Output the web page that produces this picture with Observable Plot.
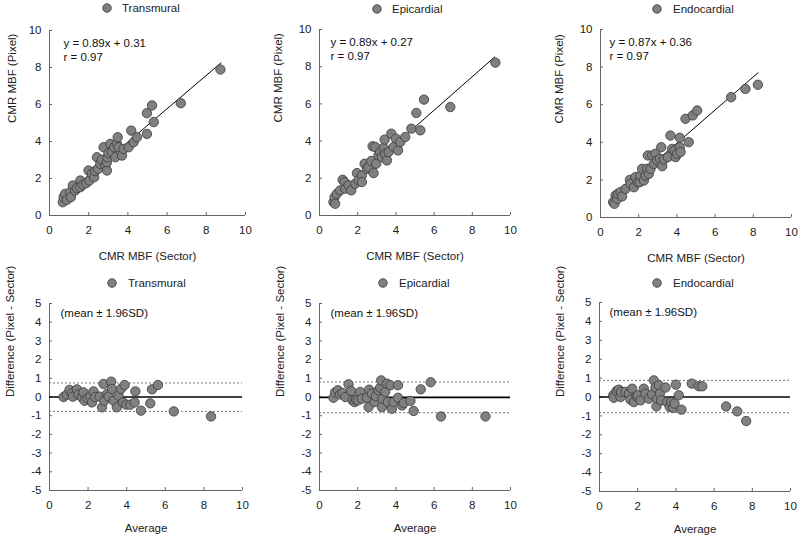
<!DOCTYPE html>
<html><head><meta charset="utf-8">
<script src="https://cdn.jsdelivr.net/npm/d3@7"></script>
<script src="https://cdn.jsdelivr.net/npm/@observablehq/plot@0.6"></script>
<style>
body{margin:0;background:#fff;}
#root{position:relative;width:800px;height:539px;overflow:hidden;background:#fff;font-family:Arial,"Liberation Sans",sans-serif;}
.panel{position:absolute;}
.legend{position:absolute;font-size:11.5px;color:#222;white-space:nowrap;height:14px;line-height:14px;}
.legend svg{position:absolute;left:0;top:2px;}
.legend span{position:absolute;top:0;}
</style>
</head><body><div id="root"></div>
<script>
// ---------- data ----------
const layers = ["Transmural", "Epicardial", "Endocardial"];
const equations = ["y = 0.89x + 0.31", "y = 0.89x + 0.27", "y = 0.87x + 0.36"];
const rValues = ["r = 0.97", "r = 0.97", "r = 0.97"];
const baNote = "(mean ± 1.96SD)";
const scatterXLabel = "CMR MBF (Sector)";
const scatterYLabel = "CMR MBF (Pixel)";
const baXLabel = "Average";
const baYLabel = "Difference (Pixel - Sector)";
const scatterTicks = [0, 2, 4, 6, 8, 10];
const baXTicks = [0, 2, 4, 6, 8, 10];
const baYTicks = [-5, -4, -3, -2, -1, 0, 1, 2, 3, 4, 5];

// Transmural scatter
const transSector = [0.68,0.72,0.80,0.89,1.06,1.09,1.19,1.31,1.40,1.57,1.57,1.70,1.87,1.99,2.04,2.16,2.28,2.33,2.42,2.47,2.59,2.67,2.76,2.85,2.93,2.93,2.96,3.01,3.10,3.19,3.30,3.36,3.44,3.48,3.53,3.70,3.78,4.04,4.17,4.29,4.46,4.97,4.97,5.23,5.32,6.70,8.72];
const transPixel  = [0.72,0.99,1.17,0.85,1.26,0.99,1.62,1.35,1.48,1.89,1.53,1.66,1.75,2.43,1.89,2.25,2.07,2.40,3.15,2.52,2.79,3.01,3.69,2.70,2.43,2.88,3.15,3.37,3.87,3.42,3.69,3.15,3.87,4.23,3.69,3.24,3.60,3.69,4.59,3.96,4.23,4.41,5.53,5.95,5.05,6.07,7.89];
// Epicardial scatter
const epiSector = [0.73,0.79,0.82,0.91,1.08,1.21,1.31,1.35,1.52,1.66,1.87,1.96,2.05,2.22,2.22,2.36,2.48,2.57,2.71,2.78,2.83,2.92,2.97,3.09,3.18,3.27,3.36,3.41,3.44,3.53,3.62,3.76,3.88,4.00,4.11,4.23,4.49,4.81,5.07,5.28,5.47,6.85,9.21];
const epiPixel  = [0.72,0.99,0.63,1.17,1.35,1.92,1.80,1.44,1.62,1.35,1.71,2.28,1.89,2.15,1.80,2.78,2.51,2.60,2.93,3.72,2.28,3.68,2.78,3.23,3.41,3.14,3.64,4.08,3.32,2.96,3.41,4.40,3.68,4.13,3.50,3.95,4.22,4.67,5.51,4.58,6.23,5.83,8.22];
// Endocardial scatter
const endoSector = [0.66,0.73,0.79,0.87,0.91,1.05,1.13,1.31,1.54,1.57,1.75,1.83,1.95,2.06,2.09,2.18,2.27,2.36,2.44,2.48,2.53,2.62,2.71,2.79,2.88,2.97,3.11,3.18,3.23,3.32,3.53,3.66,3.75,3.87,3.93,4.01,4.15,4.15,4.19,4.45,4.62,4.83,5.06,6.84,7.59,8.24];
const endoPixel  = [0.82,0.73,1.17,0.99,1.26,1.35,1.12,1.52,2.00,1.79,1.61,2.15,1.88,1.88,2.23,2.59,1.97,2.23,2.59,3.30,2.32,2.59,3.30,2.85,3.39,3.03,3.12,3.74,2.73,3.09,3.21,4.36,3.65,3.56,3.21,3.39,4.24,3.74,3.48,5.25,4.01,5.43,5.69,6.40,6.84,7.06];

// Regression line end points
const transFitX = [0.65, 8.75], transFitY = [0.95, 8.25];
const epiFitX = [0.62, 9.18], epiFitY = [0.80, 8.53];
const endoFitX = [0.70, 8.25], endoFitY = [1.05, 7.70];

// Bland-Altman
const transAvg  = [0.73,0.90,1.04,1.16,1.21,1.42,1.50,1.68,1.76,1.82,1.97,2.11,2.20,2.28,2.37,2.60,2.72,2.80,2.84,2.98,3.06,3.20,3.24,3.32,3.49,3.58,3.70,3.81,3.89,3.98,4.19,4.41,4.45,4.74,5.22,5.31,5.62,6.44,8.37];
const transDiff = [0.00,0.13,0.38,0.20,0.02,0.41,0.13,-0.02,0.25,-0.20,-0.07,0.02,-0.29,0.30,0.00,0.02,-0.55,0.70,-0.20,0.16,0.02,0.82,0.43,-0.20,-0.55,0.07,0.43,-0.29,0.64,-0.41,-0.41,-0.29,0.30,-0.73,-0.34,0.41,0.64,-0.77,-1.04];
const epiAvg  = [0.73,0.82,0.96,1.08,1.21,1.35,1.52,1.66,1.73,1.84,1.91,2.01,2.13,2.22,2.48,2.57,2.60,2.74,2.88,2.95,3.09,3.18,3.23,3.27,3.30,3.44,3.53,3.58,3.71,3.79,3.88,4.11,4.11,4.32,4.41,4.76,4.93,5.30,5.82,6.36,8.69];
const epiDiff = [-0.04,0.25,0.36,0.14,0.21,0.00,0.68,0.32,-0.18,-0.27,-0.14,-0.18,0.27,-0.09,-0.04,-0.54,0.39,0.18,-0.27,0.04,0.36,0.50,0.89,-0.54,-0.09,0.27,0.71,-0.27,0.63,-0.63,-0.27,0.63,-0.04,-0.45,-0.32,-0.21,-0.75,0.41,0.79,-1.04,-1.04];
const endoAvg  = [0.72,0.75,0.89,1.01,1.10,1.13,1.36,1.54,1.62,1.71,1.80,1.94,2.01,2.15,2.32,2.41,2.58,2.76,2.84,2.93,2.98,3.02,3.11,3.16,3.23,3.46,3.54,3.68,3.75,3.86,3.93,4.00,4.15,4.29,4.83,5.20,5.38,6.63,7.21,7.68];
const endoDiff = [0.09,-0.04,0.32,0.39,0.00,0.27,0.27,0.18,-0.14,0.44,-0.27,0.04,0.09,-0.18,0.44,0.18,-0.09,0.14,0.88,0.50,-0.50,-0.09,0.62,0.18,-0.18,0.50,-0.27,-0.53,-0.27,-0.57,-0.35,0.65,0.09,-0.67,0.71,0.57,0.57,-0.50,-0.76,-1.27];

// mean, upper limit, lower limit
const transLimits = [0.00, 0.75, -0.77];
const epiLimits = [-0.02, 0.80, -0.84];
const endoLimits = [0.00, 0.88, -0.83];

// ---------- drawing ----------
const FONT = 'Arial, "Liberation Sans", sans-serif';
const AXIS = "#666";
const PT_FILL = "#808080", PT_STROKE = "#3a3a3a";
const root = document.getElementById("root");

function zip(xs, ys) { return xs.map((x, i) => ({x, y: ys[i]})); }

function addLegend(name, cx, cy, tx) {
  const d = document.createElement("div");
  d.className = "legend";
  d.style.left = (cx - 5) + "px";
  d.style.top = (cy - 7) + "px";
  d.innerHTML = `<svg width="10" height="10"><circle cx="5" cy="5" r="4.3" fill="${PT_FILL}" stroke="${PT_STROKE}" stroke-width="0.8"/></svg><span style="left:${tx - cx + 5}px">${name}</span>`;
  root.appendChild(d);
}

function place(svg, left, top) {
  const w = document.createElement("div");
  w.className = "panel";
  w.style.left = left + "px";
  w.style.top = top + "px";
  w.appendChild(svg);
  root.appendChild(w);
}

const ML = 48, MR = 8, MT = 10;

function scatterPanel(i, sx, sy, fx, fy, g) {
  const mb = 50;
  const width = ML + (g.x10 - g.x0) + MR;
  const height = MT + (g.y0 - g.y10) + mb;
  const svg = Plot.plot({
    width, height, marginLeft: ML, marginRight: MR, marginTop: MT, marginBottom: mb,
    style: {fontFamily: FONT, fontSize: "11.5px", color: "#222", background: "transparent", overflow: "visible"},
    x: {domain: [0, 10]}, y: {domain: [0, 10]},
    marks: [
      Plot.ruleX([0], {stroke: AXIS}),
      Plot.ruleY([0], {stroke: AXIS}),
      Plot.axisX({ticks: scatterTicks, tickSize: -3, tickPadding: 13, tickFormat: d => String(d), label: null, stroke: AXIS, fill: "#222"}),
      Plot.axisY({ticks: scatterTicks, tickSize: -3, tickPadding: 11, tickFormat: d => String(d), label: null, stroke: AXIS, fill: "#222"}),
      Plot.line(zip(fx, fy), {x: "x", y: "y", stroke: "#000", strokeWidth: 1}),
      Plot.dot(zip(sx, sy), {x: "x", y: "y", r: 4.7, fill: PT_FILL, stroke: PT_STROKE, strokeWidth: 0.8}),
      Plot.text([equations[i]], {text: d => d, frameAnchor: "top-left", dx: g.tdx, dy: 13, textAnchor: "start", lineAnchor: "middle", fill: "#111"}),
      Plot.text([rValues[i]], {text: d => d, frameAnchor: "top-left", dx: g.tdx, dy: 27, textAnchor: "start", lineAnchor: "middle", fill: "#111"}),
      Plot.text([scatterXLabel], {text: d => d, frameAnchor: "bottom", dy: 41, lineAnchor: "middle", fill: "#222"}),
      Plot.text([scatterYLabel], {text: d => d, frameAnchor: "left", dx: g.ldx, rotate: -90, lineAnchor: "middle", fill: "#222"})
    ]
  });
  place(svg, g.x0 - ML, g.y10 - MT);
}

function baPanel(i, ax, dy, lim, g) {
  const mb = 46;
  const width = ML + (g.x10 - g.x0) + MR;
  const height = MT + (g.yb - g.yt) + mb;
  const svg = Plot.plot({
    width, height, marginLeft: ML, marginRight: MR, marginTop: MT, marginBottom: mb,
    style: {fontFamily: FONT, fontSize: "11.5px", color: "#222", background: "transparent", overflow: "visible"},
    x: {domain: [0, 10]}, y: {domain: [-5, 5]},
    marks: [
      Plot.ruleX([0], {stroke: AXIS}),
      Plot.ruleY([-5], {stroke: AXIS}),
      Plot.axisX({ticks: baXTicks, tickSize: -3, tickPadding: 13, tickFormat: d => String(d), label: null, stroke: AXIS, fill: "#222"}),
      Plot.axisY({ticks: baYTicks, tickSize: -3, tickPadding: 11, tickFormat: d => String(d), label: null, stroke: AXIS, fill: "#222"}),
      Plot.ruleY([lim[1], lim[2]], {x1: 0, x2: 10, stroke: "#777", strokeWidth: 1, strokeDasharray: "2,2"}),
      Plot.ruleY([lim[0]], {x1: 0, x2: 10, stroke: "#000", strokeWidth: 1.6}),
      Plot.dot(zip(ax, dy), {x: "x", y: "y", r: 4.7, fill: PT_FILL, stroke: PT_STROKE, strokeWidth: 0.8}),
      Plot.text([baNote], {text: d => d, frameAnchor: "top-left", dx: g.tdx, dy: 10, textAnchor: "start", lineAnchor: "middle", fill: "#111"}),
      Plot.text([baXLabel], {text: d => d, frameAnchor: "bottom", dy: 38, lineAnchor: "middle", fill: "#222"}),
      Plot.text([baYLabel], {text: d => d, frameAnchor: "left", dx: g.ldx, rotate: -90, lineAnchor: "middle", fill: "#222"})
    ]
  });
  place(svg, g.x0 - ML, g.yt - MT);
}

// top row
scatterPanel(0, transSector, transPixel, transFitX, transFitY, {x0: 49, x10: 245, y10: 30, y0: 215, tdx: 14, ldx: -37});
scatterPanel(1, epiSector, epiPixel, epiFitX, epiFitY, {x0: 319, x10: 510, y10: 29, y0: 215, tdx: 11, ldx: -41});
scatterPanel(2, endoSector, endoPixel, endoFitX, endoFitY, {x0: 600, x10: 791, y10: 29, y0: 217, tdx: 9, ldx: -41});
// bottom row
baPanel(0, transAvg, transDiff, transLimits, {x0: 49, x10: 242, yt: 303, yb: 490, tdx: 11, ldx: -39});
baPanel(1, epiAvg, epiDiff, epiLimits, {x0: 319, x10: 510, yt: 303, yb: 490, tdx: 11, ldx: -39});
baPanel(2, endoAvg, endoDiff, endoLimits, {x0: 599, x10: 790, yt: 302, yb: 491, tdx: 10, ldx: -39});

// legends
addLegend(layers[0], 107, 8, 122);
addLegend(layers[1], 377, 9, 392);
addLegend(layers[2], 657, 9, 673);
addLegend(layers[0], 112, 283, 128);
addLegend(layers[1], 383, 283, 399);
addLegend(layers[2], 657, 283, 673);
</script>
</body></html>
